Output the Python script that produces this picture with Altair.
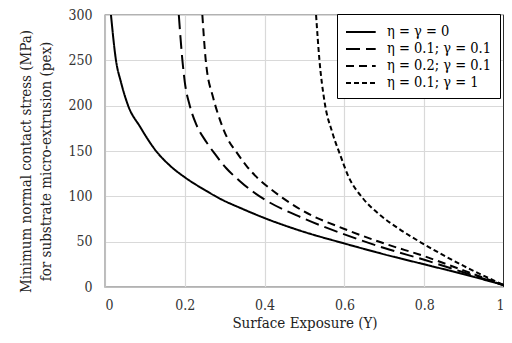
import altair as alt
import pandas as pd

labels = ["η = γ = 0", "η = 0.1; γ = 0.1", "η = 0.2; γ = 0.1", "η = 0.1; γ = 1"]

x_s1 = [0.015, 0.0275, 0.04, 0.058, 0.0875, 0.128, 0.1625, 0.2, 0.25, 0.29, 0.34, 0.4, 0.49, 0.6, 0.7, 0.8, 0.9, 1.0]
y_s1 = [300, 250, 226, 200, 177, 150, 134, 121, 107, 97, 87, 76, 62, 48, 36, 25, 14, 2]

x_s2 = [0.185, 0.194, 0.2, 0.2125, 0.229, 0.254, 0.275, 0.304, 0.3375, 0.371, 0.4, 0.496, 0.6, 0.7, 0.8, 0.9, 1.0]
y_s2 = [300, 250, 226, 200, 179, 160, 147, 131, 117, 105, 96.5, 76, 58, 43, 30, 16, 2]

x_s3 = [0.244, 0.2525, 0.271, 0.283, 0.308, 0.329, 0.354, 0.383, 0.4125, 0.446, 0.496, 0.6, 0.7, 0.8, 0.9, 1.0]
y_s3 = [300, 250, 209, 191, 163, 149, 134, 120, 109, 98, 84, 64, 48, 34, 18, 2]

x_s4 = [0.529, 0.5375, 0.55, 0.57, 0.59, 0.61, 0.646, 0.6875, 0.7375, 0.8, 0.84, 0.9, 1.0]
y_s4 = [300, 250, 205, 170, 145, 122, 98, 80, 64, 47, 37, 23, 2]

series_x = [x_s1, x_s2, x_s3, x_s4]
series_y = [y_s1, y_s2, y_s3, y_s4]

rows = []
for lab, xs, ys in zip(labels, series_x, series_y):
    for i, (xv, yv) in enumerate(zip(xs, ys)):
        rows.append({"series": lab, "Y": xv, "p": yv, "order": i})
df = pd.DataFrame(rows)

dashes = [[1, 0], [14, 6], [8, 5], [5, 3]]
FONT = "DejaVu Serif Condensed"

lines = alt.Chart(df).mark_line(color="black", strokeWidth=2, interpolate="monotone").encode(
    x=alt.X("Y:Q", scale=alt.Scale(domain=[0, 1], nice=False),
            axis=alt.Axis(title="Surface Exposure (Y)", values=[0, 0.2, 0.4, 0.6, 0.8, 1],
                          format="~g", ticks=False, labelPadding=11, titlePadding=3,
                          domainColor="#bfbfbf", gridColor="#d9d9d9")),
    y=alt.Y("p:Q", scale=alt.Scale(domain=[0, 300], nice=False),
            axis=alt.Axis(title=["Minimum normal contact stress (MPa)", "for substrate micro-extrusion (pex)"],
                          values=[0, 50, 100, 150, 200, 250, 300], ticks=False, labelPadding=13,
                          titlePadding=14, titleY=146, domainColor="#bfbfbf", gridColor="#d9d9d9")),
    strokeDash=alt.StrokeDash("series:N", sort=labels,
                              scale=alt.Scale(domain=labels, range=dashes),
                              legend=alt.Legend(title=None, orient="none", legendX=232, legendY=-1,
                                                symbolType="M-1,0H2.3", symbolSize=324,
                                                symbolStrokeWidth=2, symbolStrokeColor="black",
                                                labelFont=FONT, labelFontSize=14.5, labelColor="black",
                                                strokeColor="black", fillColor="white",
                                                padding=8, rowPadding=0, labelOffset=22)),
    order="order:Q",
)

right_edge = alt.Chart(pd.DataFrame({"v": [1]})).mark_rule(color="black", strokeWidth=1.5).encode(
    x=alt.X("v:Q")
)

chart = alt.layer(lines, right_edge).properties(
    width=399, height=272,
    autosize="none",
    padding={"left": 97, "top": 7, "right": 0, "bottom": 48},
).configure_view(stroke="#666666", strokeWidth=1.3).configure_axis(
    labelFont=FONT, titleFont=FONT,
    labelFontSize=14, titleFontSize=15,
    labelColor="#333333", titleColor="#222222", titleFontWeight="normal",
    gridWidth=1.2,
).configure_axisY(titleLineHeight=20)

chart.save("out.html", embed_options={"renderer": "svg", "actions": False})
